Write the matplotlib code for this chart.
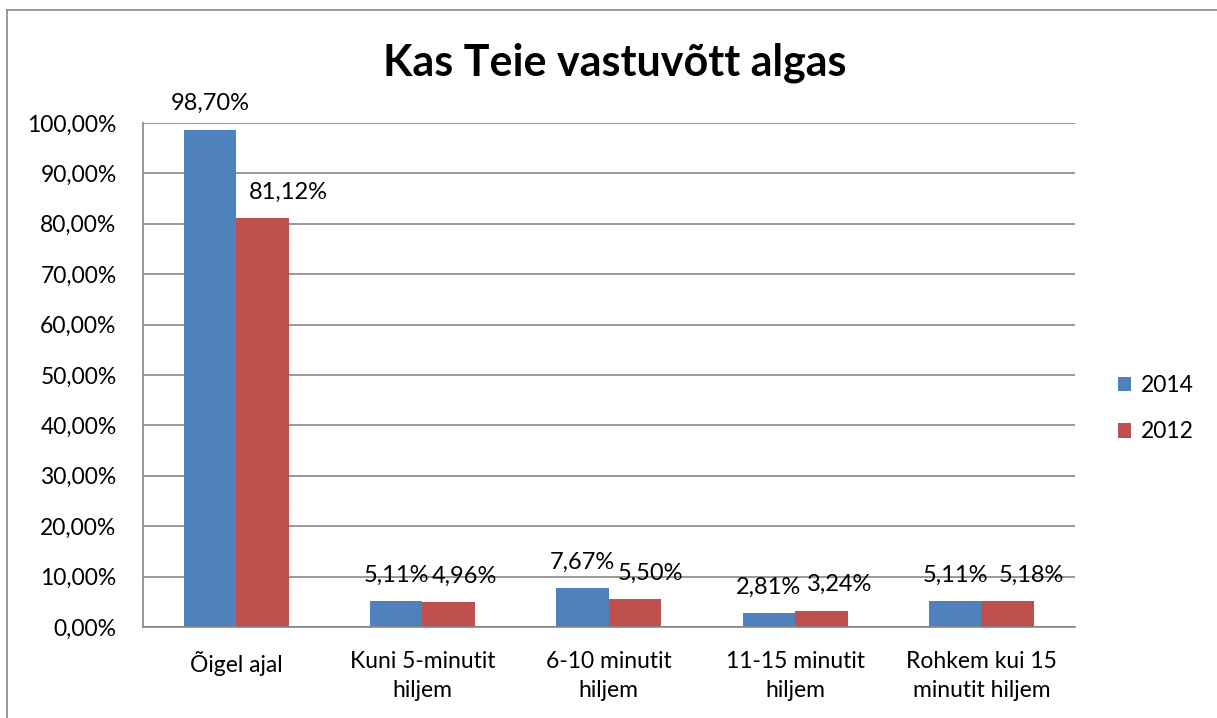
import matplotlib
matplotlib.use("Agg")
import matplotlib.pyplot as plt
import numpy as np

plt.rcParams['font.family'] = ['Lato', 'DejaVu Sans']

categories = ['Õigel ajal', 'Kuni 5-minutit\nhiljem', '6-10 minutit\nhiljem',
              '11-15 minutit\nhiljem', 'Rohkem kui 15\nminutit hiljem']
years = ['2014', '2012']
v2014 = [98.70, 5.11, 7.67, 2.81, 5.11]
v2012 = [81.12, 4.96, 5.50, 3.24, 5.18]
colors = ['#4F81BD', '#C0504D']

# sideways nudge (px) of the 2012 labels, as in the original
nudge2012 = [26, 16, 15, 18, 24]

fig = plt.figure(figsize=(12.17, 7.18), dpi=100)
ax = fig.add_axes([0.1175, 0.1267, 0.7655, 0.702])

x = np.arange(len(categories))
w = 0.282
b1 = ax.bar(x - w/2, v2014, w, color=colors[0], label=years[0])
b2 = ax.bar(x + w/2, v2012, w, color=colors[1], label=years[1])

def fmt(v):
    return ('%.2f%%' % v).replace('.', ',')

for bars, vals, nudges in ((b1, v2014, [0]*5), (b2, v2012, nudge2012)):
    for r, v, n in zip(bars, vals, nudges):
        ax.annotate(fmt(v), (r.get_x() + r.get_width()/2, v), xytext=(n*0.72, 14),
                    textcoords='offset points', ha='center', va='baseline', fontsize=17)

ax.set_xlim(-0.5, len(categories) - 0.5)
ax.set_ylim(0, 100)
yt = np.arange(0, 101, 10)
ax.set_yticks(yt)
ax.set_yticklabels([fmt(t) for t in yt], fontsize=16.5)
ax.set_xticks(x)
ax.set_xticklabels(categories, fontsize=16.5, linespacing=1.5)
ax.tick_params(axis='x', length=0, pad=17)
ax.tick_params(axis='y', length=0, pad=19)
ax.yaxis.grid(True, color='#868686', lw=1.2)
ax.set_axisbelow(True)
for s in ['top', 'right']:
    ax.spines[s].set_visible(False)
for s in ['left', 'bottom']:
    ax.spines[s].set_color('#868686')
    ax.spines[s].set_linewidth(1.2)

fig.text(0.505, 0.913, 'Kas Teie vastuvõtt algas', ha='center', va='center',
         fontsize=31, fontweight='bold')

ax.legend(loc='center left', bbox_to_anchor=(1.024, 0.433), frameon=False, fontsize=16.5,
          handlelength=0.6, handleheight=0.6, labelspacing=1.1, handletextpad=0.4)

# outer chart border (top and left visible)
fig.add_artist(plt.Line2D([0.0058, 0.0058], [0, 0.986], color='#868686', lw=1.2))
fig.add_artist(plt.Line2D([0.0058, 1.0], [0.986, 0.986], color='#868686', lw=1.2))

fig.savefig('out.png', dpi=100)
